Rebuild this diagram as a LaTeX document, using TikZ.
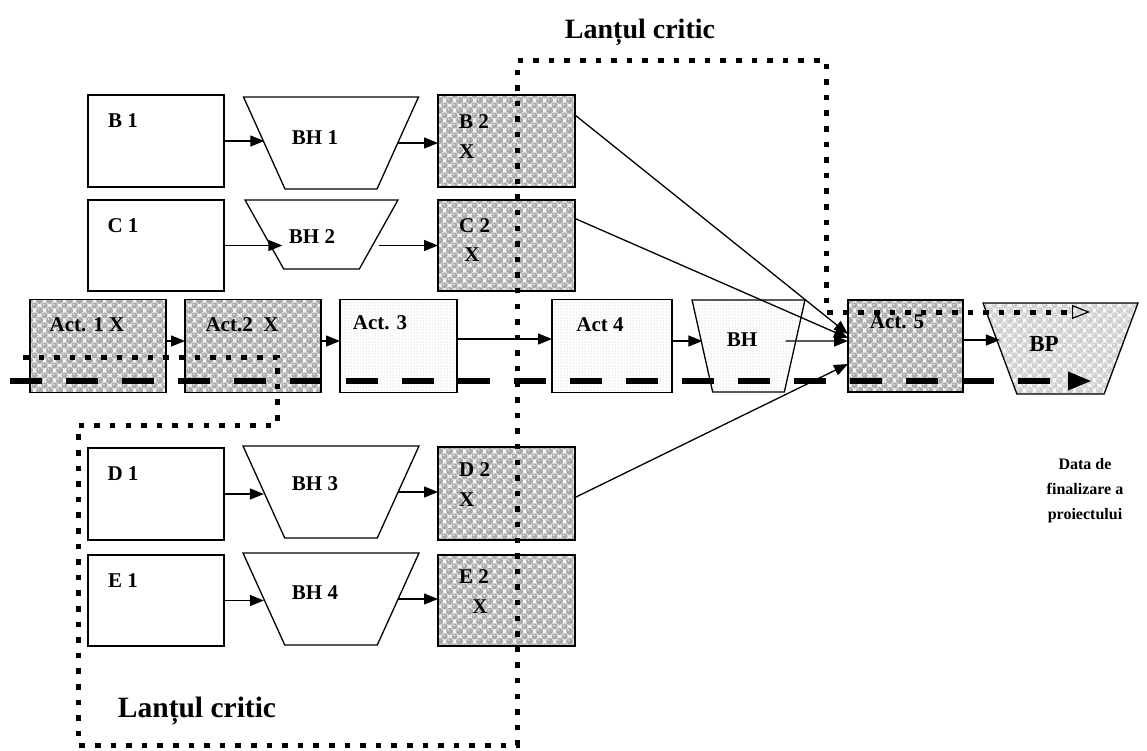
\documentclass[tikz,border=0pt]{standalone}
\usepackage{fontspec}
\setmainfont{Liberation Serif}
\usetikzlibrary{arrows.meta,shapes.geometric,patterns,patterns.meta,calc}

\pgfdeclarepattern{
  name=bubblesdark,
  type=colored,
  bottom left={\pgfpoint{0pt}{0pt}},
  top right={\pgfpoint{10pt}{10pt}},
  tile size={\pgfpoint{10pt}{10pt}},
  code={
    \pgfsetfillcolor{gray!12}
    \pgfpathrectangle{\pgfpointorigin}{\pgfpoint{10pt}{10pt}}
    \pgfusepath{fill}
    \pgfsetfillcolor{gray!66}
    \pgfpathcircle{\pgfpoint{5pt}{5pt}}{3.3pt}
    \pgfpathcircle{\pgfpoint{0pt}{0pt}}{3.3pt}
    \pgfpathcircle{\pgfpoint{10pt}{0pt}}{3.3pt}
    \pgfpathcircle{\pgfpoint{0pt}{10pt}}{3.3pt}
    \pgfpathcircle{\pgfpoint{10pt}{10pt}}{3.3pt}
    \pgfusepath{fill}
    \pgfsetfillcolor{gray!25}
    \pgfpathcircle{\pgfpoint{4.3pt}{6pt}}{1.1pt}
    \pgfpathcircle{\pgfpoint{9.3pt}{1pt}}{1.1pt}
    \pgfusepath{fill}
  }
}
\pgfdeclarepattern{
  name=bubbleslight,
  type=colored,
  bottom left={\pgfpoint{0pt}{0pt}},
  top right={\pgfpoint{10pt}{10pt}},
  tile size={\pgfpoint{10pt}{10pt}},
  code={
    \pgfsetfillcolor{gray!6}
    \pgfpathrectangle{\pgfpointorigin}{\pgfpoint{10pt}{10pt}}
    \pgfusepath{fill}
    \pgfsetfillcolor{gray!38}
    \pgfpathcircle{\pgfpoint{5pt}{5pt}}{3.3pt}
    \pgfpathcircle{\pgfpoint{0pt}{0pt}}{3.3pt}
    \pgfpathcircle{\pgfpoint{10pt}{0pt}}{3.3pt}
    \pgfpathcircle{\pgfpoint{0pt}{10pt}}{3.3pt}
    \pgfpathcircle{\pgfpoint{10pt}{10pt}}{3.3pt}
    \pgfusepath{fill}
    \pgfsetfillcolor{gray!14}
    \pgfpathcircle{\pgfpoint{4.3pt}{6pt}}{1.1pt}
    \pgfpathcircle{\pgfpoint{9.3pt}{1pt}}{1.1pt}
    \pgfusepath{fill}
  }
}

\begin{document}
\begin{tikzpicture}[x=1pt,y=-1pt,
  box/.style={draw, line width=1.3pt, rectangle, inner sep=0pt, outer sep=0pt},
  plainbox/.style={box, fill=white},
  darkbox/.style={box, pattern=bubblesdark},
  lightbox/.style={box, preaction={fill=white}, pattern=dots, pattern color=gray!55},
  trap/.style={draw, line width=1.3pt, trapezium, shape border rotate=180,
    trapezium stretches=true, inner sep=1pt, outer sep=0pt},
  lbl/.style={inner sep=0pt, font=\bfseries\fontsize{21}{24}\selectfont},
  arr/.style={line width=1.3pt, -{Triangle[length=14pt,width=11pt]}},
  critline/.style={line width=6pt, dash pattern=on 32pt off 24pt,
    -{Triangle[length=24pt,width=17pt]}},
  chain/.style={line width=5pt, dash pattern=on 5.5pt off 10.1pt,
    -{Triangle[open,length=18pt,width=14pt,line width=1.2pt]}},
  title/.style={inner sep=0pt, anchor=base, font=\bfseries\fontsize{28}{32}\selectfont}
]
\useasboundingbox (0,0) rectangle (1147,750);

% row B
\node[plainbox, minimum width=136pt, minimum height=92pt] (b1) at (156,141) {};
\node[trap, trapezium left angle=64.4, trapezium right angle=64.4, minimum width=175pt, minimum height=92pt] (bh1) at (331,143) {\phantom{x}};
\node[darkbox, minimum width=137pt, minimum height=92pt] (b2) at (506.5,141) {};
% row C
\node[plainbox, minimum width=136pt, minimum height=91pt] (c1) at (156,245.5) {};
\node[trap, trapezium left angle=61.5, trapezium right angle=61.5, minimum width=153pt, minimum height=69pt] (bh2) at (321.5,234.5) {\phantom{x}};
\node[darkbox, minimum width=137pt, minimum height=91pt] (c2) at (506.5,245.5) {};
% row Act
\node[darkbox, minimum width=136pt, minimum height=93pt] (act1) at (98,346) {};
\node[darkbox, minimum width=136pt, minimum height=93pt] (act2) at (253,346) {};
\node[lightbox, minimum width=117pt, minimum height=93pt] (act3) at (398.5,346) {};
\node[lightbox, minimum width=120pt, minimum height=93pt] (act4) at (612,346) {};
\node[trap, preaction={fill=white}, pattern=dots, pattern color=gray!55, trapezium left angle=73, trapezium right angle=73, minimum width=113pt, minimum height=92pt] (bh) at (748.5,346) {\phantom{x}};
\node[darkbox, minimum width=115pt, minimum height=92pt] (act5) at (905.5,346) {};
\node[trap, pattern=bubbleslight, trapezium left angle=67.6, trapezium right angle=67.6, minimum width=155pt, minimum height=91pt] (bp) at (1060.5,348.5) {\phantom{x}};
% row D
\node[plainbox, minimum width=136pt, minimum height=92pt] (d1) at (156,494) {};
\node[trap, trapezium left angle=64.4, trapezium right angle=64.4, minimum width=176pt, minimum height=92pt] (bh3) at (331,492) {\phantom{x}};
\node[darkbox, minimum width=137pt, minimum height=93pt] (d2) at (506.5,493.5) {};
% row E
\node[plainbox, minimum width=136pt, minimum height=91pt] (e1) at (156,600.5) {};
\node[trap, trapezium left angle=64.4, trapezium right angle=64.4, minimum width=176pt, minimum height=92pt] (bh4) at (331,599) {\phantom{x}};
\node[darkbox, minimum width=137pt, minimum height=91pt] (e2) at (506.5,600.5) {};

% labels
\node[lbl] (lb1) at (123,121) {B 1};
\node[lbl] (lc1) at (123,226) {C 1};
\node[lbl] (ld1) at (123,474) {D 1};
\node[lbl] (le1) at (123,581) {E 1};
\node[lbl] (lbh1) at (315,138) {BH 1};
\node[lbl] (lbh2) at (312,237) {BH 2};
\node[lbl] (lbh3) at (315,484) {BH 3};
\node[lbl] (lbh4) at (315,593) {BH 4};
\node[lbl, anchor=west] (lb2) at (459,122) {B 2};
\node[lbl, anchor=west] (lb2x) at (459,152) {X};
\node[lbl, anchor=west] (lc2) at (459,226) {C 2};
\node[lbl] (lc2x) at (472,255) {X};
\node[lbl, anchor=west] (ld2) at (459,470) {D 2};
\node[lbl, anchor=west] (ld2x) at (459,500) {X};
\node[lbl, anchor=west] (le2) at (459,577) {E 2};
\node[lbl] (le2x) at (480,607) {X};
\node[lbl] (lact1) at (87,325) {Act. 1 X};
\node[lbl] (lact2) at (242,325) {Act.2\enspace X};
\node[lbl] (lact3) at (380,323) {Act. 3};
\node[lbl] (lact4) at (600,325) {Act 4};
\node[lbl] (lbh) at (742,340) {BH};
\node[lbl] (lact5) at (897,322) {Act. 5};
\node[lbl, font=\bfseries\fontsize{23}{26}\selectfont] (lbp) at (1044,344) {BP};

\node[title] (t1) at (640,38) {Lanțul critic};
\node[title, font=\bfseries\fontsize{29.5}{33}\selectfont] (t2) at (197,717) {Lanțul critic};
\node[align=center, inner sep=0pt, font=\bfseries\fontsize{16}{25}\selectfont] (data) at (1085,491) {Data de\\finalizare a\\proiectului};

% connectors
\draw[arr] (b1.east) -- (b1.east -| bh1.west);
\draw[arr] (bh1.east) -- (bh1.east -| b2.west);
\draw[arr] (c1.east) -- ($(bh2.west |- c1.east)+(18,0)$);
\draw[arr] (bh2.east |- c2.west) -- (c2.west);
\draw[arr] (d1.east) -- (d1.east -| bh3.west);
\draw[arr] (bh3.east) -- (bh3.east -| d2.west);
\draw[arr] (e1.east) -- (e1.east -| bh4.west);
\draw[arr] (bh4.east) -- (bh4.east -| e2.west);
\draw[arr] ([yshift=5pt]act1.east) -- ([yshift=5pt]act2.west);
\draw[arr] ([yshift=5pt]act2.east) -- ([yshift=5pt]act3.west);
\draw[arr] ([yshift=7pt]act3.east) -- ([yshift=7pt]act4.west);
\draw[arr] ([yshift=5pt]act4.east) -- ([yshift=5pt]act4.east -| bh.west);
\draw[arr] ([xshift=-9pt,yshift=5pt]bh.east) -- ([yshift=5pt]act5.west);
\draw[arr] ([yshift=6pt]act5.east) -- ([yshift=6pt]act5.east -| bp.west);
\draw[arr] ([yshift=26pt]b2.east) -- ([yshift=12pt]act5.west);
\draw[arr] ([yshift=27pt]c2.east) -- ([yshift=8pt]act5.west);
\draw[arr] ([yshift=-4pt]d2.east) -- ([yshift=-18pt]act5.west);

% critical time line
\coordinate (ds) at (10,381);
\coordinate (de) at (1092,381);
\draw[critline] (ds) -- (de);

% critical chain dotted path
\coordinate (p1) at (23,357);
\coordinate (p2) at (277,357);
\coordinate (p3) at (277,425);
\coordinate (p4) at (78,425);
\coordinate (p5) at (78,745);
\coordinate (p6) at (517,745);
\coordinate (p7) at (517,60);
\coordinate (p8) at (826,60);
\coordinate (p9) at (826,312);
\coordinate (p10) at (1090,312);
\draw[chain] (p1) -- (p2) -- (p3) -- (p4) -- (p5) -- (p6) -- (p7) -- (p8) -- (p9) -- (p10);
\end{tikzpicture}
\end{document}
